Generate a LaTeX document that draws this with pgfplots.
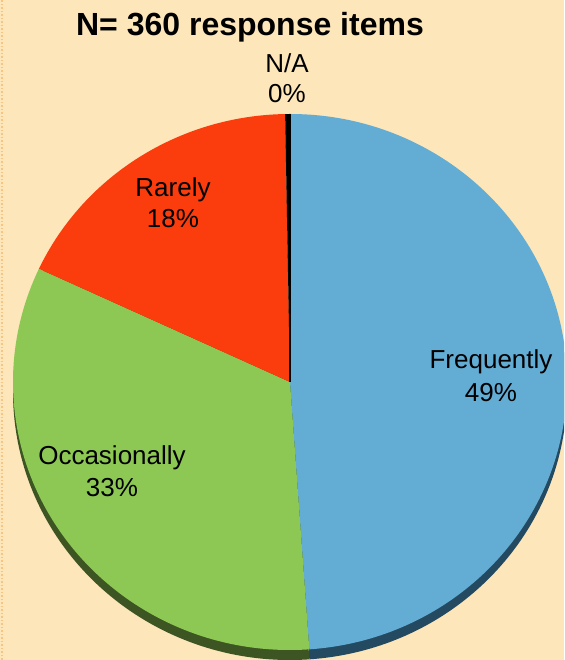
\documentclass[border=0pt]{standalone}
\usepackage{pgfplots}
\pgfplotsset{compat=1.18}
\usepackage{fontspec}
\setmainfont{Liberation Sans}
\definecolor{bg}{RGB}{253,230,185}
\definecolor{frame}{RGB}{248,196,130}
\definecolor{cblue}{RGB}{99,172,212}
\definecolor{cgreen}{RGB}{141,200,84}
\definecolor{cred}{RGB}{251,60,12}
\definecolor{dblue}{RGB}{35,74,96}
\definecolor{dgreen}{RGB}{60,85,34}
\definecolor{dred}{RGB}{120,30,8}
\newcommand\pieslice[5]{%
  \fill[#5] (axis cs:#1,#2) -- (axis cs:{#1+277*cos(#3)},{#2+268*sin(#3)})
    arc[start angle=#3, end angle=#4, x radius=277pt, y radius=268pt] -- cycle;}
\begin{document}
\begin{tikzpicture}
% counts of response items (N = 360)
\def\cF{176}\def\cO{119}\def\cR{64}\def\cN{1}\def\total{360}
\pgfmathsetmacro\aA{90}
\pgfmathsetmacro\aB{\aA-\cF/\total*360}
\pgfmathsetmacro\aC{\aB-\cO/\total*360}
\pgfmathsetmacro\aD{\aC-\cR/\total*360}
\pgfmathsetmacro\aE{\aD-\cN/\total*360}
\begin{axis}[scale only axis, width=564pt, height=660pt,
  xmin=0, xmax=564, ymin=0, ymax=660, hide axis, clip=true]
\fill[bg] (axis cs:0,0) rectangle (axis cs:564,660);
\draw[frame, line width=1.5pt, dotted] (axis cs:2,0) -- (axis cs:2,660);
% side (shadow)
\pieslice{290}{268}{\aA}{\aB}{dblue}
\pieslice{290}{268}{\aB}{\aC}{dgreen}
\pieslice{290}{268}{\aC}{\aD}{dred}
% top face
\pieslice{290}{278}{\aA}{\aB}{cblue}
\pieslice{290}{278}{\aB}{\aC}{cgreen}
\pieslice{290}{278}{\aC}{\aD}{cred}
\pieslice{290}{278}{\aD}{\aE}{black}
\draw[black, line width=1.2pt] (axis cs:290,278) -- (axis cs:290,546);
% labels
\node[anchor=base, font=\fontsize{32}{34}\selectfont\bfseries] at (axis cs:250,624) {N= 360 response items};
\begin{scope}[every node/.style={anchor=base, font=\fontsize{26}{28}\selectfont}]
\node at (axis cs:287,587) {N/A};
\node at (axis cs:287,557) {0\%};
\node at (axis cs:173,463) {Rarely};
\node at (axis cs:173,432) {18\%};
\node at (axis cs:491,291) {Frequently};
\node at (axis cs:491,258) {49\%};
\node at (axis cs:112,195) {Occasionally};
\node at (axis cs:112,163) {33\%};
\end{scope}
\end{axis}
\end{tikzpicture}
\end{document}
